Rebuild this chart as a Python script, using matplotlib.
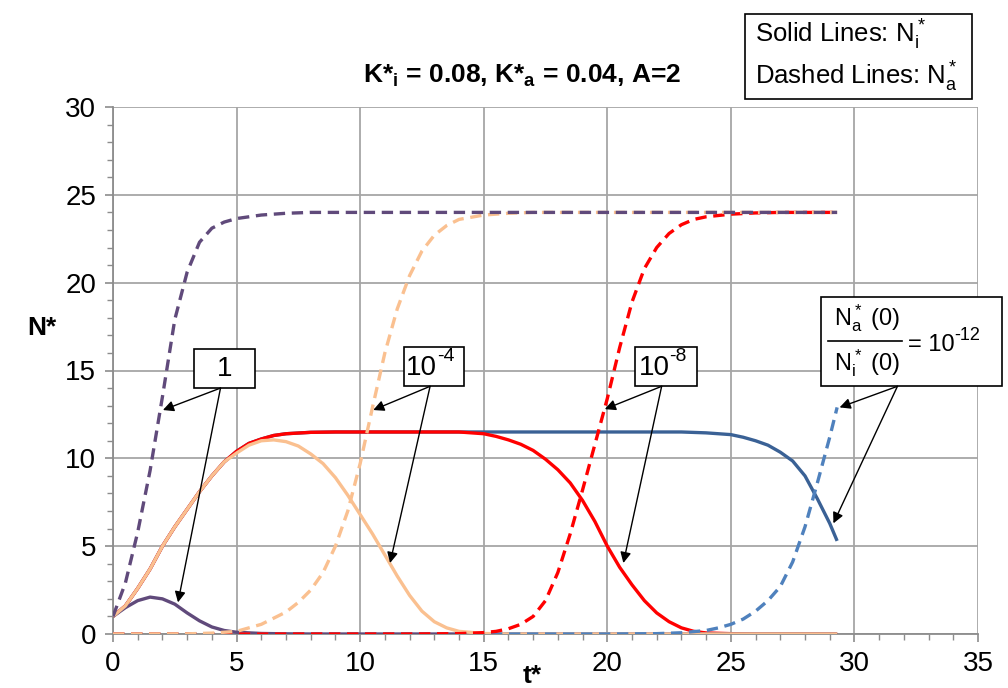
import matplotlib
matplotlib.use("Agg")
import matplotlib.pyplot as plt
from matplotlib.patches import Rectangle
from matplotlib.ticker import MultipleLocator

plt.rcParams['font.family'] = ['Liberation Sans', 'DejaVu Sans']
plt.rcParams['mathtext.fontset'] = 'custom'
plt.rcParams['mathtext.rm'] = 'Liberation Sans'
plt.rcParams['mathtext.it'] = 'Liberation Sans:italic'
plt.rcParams['mathtext.bf'] = 'Liberation Sans:bold'

# ---- values ----
# ratio Na(0)/Ni(0) = 1  (purple)
t_p_solid = [0, 0.5, 1, 1.5, 2, 2.5, 3, 3.5, 4, 4.5, 5, 6, 7, 8, 29.3]
n_p_solid = [1.0, 1.5, 1.9, 2.1, 2.0, 1.7, 1.2, 0.75, 0.4, 0.2, 0.1, 0.03, 0.01, 0.0, 0.0]
t_p_dash = [0, 0.5, 1, 1.5, 2, 2.5, 3, 3.5, 4, 4.5, 5, 6, 7, 8, 29.3]
n_p_dash = [1.0, 2.9, 5.8, 9.3, 13.5, 17.9, 20.6, 22.3, 23.1, 23.45, 23.65, 23.85, 23.95, 24.0, 24.0]

# ratio 1e-4 (light orange)
t_o_solid = [0, 0.5, 1, 1.5, 2, 2.5, 3, 3.5, 4, 4.5, 5, 5.5, 6, 6.5, 7, 7.5, 8, 8.5, 9, 9.5,
             10, 10.5, 11, 11.5, 12, 12.5, 13, 13.5, 14, 15, 16, 29.3]
n_o_solid = [1.0, 1.6, 2.6, 3.7, 5.0, 6.1, 7.1, 8.1, 9.0, 9.8, 10.3, 10.75, 11.0, 11.05, 10.95, 10.7,
             10.25, 9.7, 8.9, 7.9, 6.8, 5.7, 4.5, 3.3, 2.2, 1.3, 0.7, 0.35, 0.15, 0.03, 0.0, 0.0]
t_o_dash = [0, 3, 4, 5, 6, 7, 7.5, 8, 8.5, 9, 9.5, 10, 10.5, 11, 11.5, 12, 12.5, 13, 13.5, 14,
            15, 16, 17, 29.3]
n_o_dash = [0.0, 0.01, 0.05, 0.15, 0.55, 1.25, 1.8, 2.5, 3.5, 5.0, 7.0, 9.7, 12.9, 16.0, 18.5, 20.4,
            21.8, 22.7, 23.25, 23.6, 23.85, 23.95, 24.0, 24.0]

# ratio 1e-8 (red)
t_r_solid = [0, 0.5, 1, 1.5, 2, 2.5, 3, 3.5, 4, 4.5, 5, 5.5, 6, 6.5, 7, 8, 9, 10, 12, 14, 15,
             15.5, 16, 16.5, 17, 17.5, 18, 18.5, 19, 19.5, 20, 20.5, 21, 21.5, 22, 22.5, 23,
             23.5, 24, 25, 26, 29.3]
n_r_solid = [1.0, 1.6, 2.6, 3.7, 5.0, 6.1, 7.1, 8.1, 9.0, 9.8, 10.4, 10.85, 11.1, 11.3, 11.4,
             11.48, 11.5, 11.5, 11.5, 11.5, 11.4, 11.25, 11.05, 10.8, 10.45, 9.95, 9.35, 8.6,
             7.6, 6.4, 5.0, 3.8, 2.8, 1.9, 1.2, 0.7, 0.35, 0.15, 0.06, 0.02, 0.0, 0.0]
t_r_dash = [0, 12, 14, 15, 15.5, 16, 16.5, 17, 17.5, 18, 18.5, 19, 19.5, 20, 20.5, 21, 21.5,
            22, 22.5, 23, 23.5, 24, 25, 26, 27, 29.3]
n_r_dash = [0.0, 0.0, 0.02, 0.08, 0.15, 0.3, 0.55, 1.0, 1.9, 3.5, 5.7, 8.2, 10.8, 13.4, 16.3,
            18.9, 20.8, 22.0, 22.8, 23.3, 23.6, 23.75, 23.9, 23.97, 24.0, 24.0]

# ratio 1e-12 (blue)
t_b_solid = [0, 0.5, 1, 1.5, 2, 2.5, 3, 3.5, 4, 4.5, 5, 5.5, 6, 6.5, 7, 8, 9, 10, 12, 14, 16,
             18, 20, 22, 23, 24, 25, 25.5, 26, 26.5, 27, 27.5, 28, 28.5, 29, 29.3]
n_b_solid = [1.0, 1.6, 2.6, 3.7, 5.0, 6.1, 7.1, 8.1, 9.0, 9.8, 10.4, 10.85, 11.1, 11.3, 11.4,
             11.48, 11.5, 11.5, 11.5, 11.5, 11.5, 11.5, 11.5, 11.5, 11.5, 11.45, 11.35, 11.2,
             11.0, 10.75, 10.35, 9.85, 9.0, 7.7, 6.3, 5.3]
t_b_dash = [0, 20, 22, 23, 24, 24.5, 25, 25.5, 26, 26.5, 27, 27.5, 28, 28.5, 29, 29.3]
n_b_dash = [0.0, 0.0, 0.02, 0.07, 0.2, 0.35, 0.55, 0.85, 1.3, 1.9, 2.7, 4.1, 6.1, 8.6, 11.2, 12.9]

# colours
c_purple = '#604A7B'
c_orange = '#FAC090'
c_red = '#FF0000'
c_blue = '#3A6195'
c_blue_l = '#4F81BD'

fig = plt.figure(figsize=(10.08, 6.88), dpi=100)
ax = fig.add_axes([113 / 1008, 54 / 688, 865 / 1008, 527 / 688])

lw = 2.4
dash = (3.4, 2.0)

ax.plot(t_b_solid, n_b_solid, color=c_blue, lw=lw, solid_capstyle='butt', zorder=3)
ax.plot(t_r_solid, n_r_solid, color=c_red, lw=lw, solid_capstyle='butt', zorder=3)
ax.plot(t_p_solid, n_p_solid, color=c_purple, lw=lw, solid_capstyle='butt', zorder=3)
ax.plot(t_o_solid, n_o_solid, color=c_orange, lw=lw, solid_capstyle='butt', zorder=3)
ax.plot(t_b_dash, n_b_dash, color=c_blue_l, lw=lw, dashes=dash, dash_capstyle='butt', zorder=3)
ax.plot(t_r_dash, n_r_dash, color=c_red, lw=lw, dashes=dash, dash_capstyle='butt', zorder=3)
ax.plot(t_o_dash, n_o_dash, color=c_orange, lw=lw, dashes=dash, dash_capstyle='butt', zorder=3)
ax.plot(t_p_dash, n_p_dash, color=c_purple, lw=lw, dashes=dash, dash_capstyle='butt', zorder=3)

ax.set_xlim(0, 35)
ax.set_ylim(0, 30)
ax.xaxis.set_major_locator(MultipleLocator(5))
ax.yaxis.set_major_locator(MultipleLocator(5))
ax.xaxis.set_minor_locator(MultipleLocator(1))
ax.yaxis.set_minor_locator(MultipleLocator(1))
ax.grid(True, which='major', color='#A6A6A6', lw=1.3, zorder=1)
ax.set_axisbelow(True)
for s in ['top', 'right']:
    ax.spines[s].set_visible(False)
for s in ['left', 'bottom']:
    ax.spines[s].set_color('#8C8C8C')
    ax.spines[s].set_linewidth(1.3)
ax.tick_params(which='major', length=6, width=1.2, color='#8C8C8C', labelsize=20, pad=6)
ax.tick_params(which='minor', length=4, width=1.0, color='#8C8C8C')

# labels and title
fig.text(42 / 1008, 1 - 328 / 688, 'N*', fontsize=19, fontweight='bold', ha='center', va='center')
fig.text(532 / 1008, 1 - 676 / 688, 't*', fontsize=19, fontweight='bold', ha='center', va='center')
fig.text(522 / 1008, 1 - 76 / 688, r'K*$_\mathbf{i}$ = 0.08, K*$_\mathbf{a}$ = 0.04, A=2',
         fontsize=19, fontweight='bold', ha='center', va='center')

# legend box at top right
fig.patches.append(Rectangle((745 / 1008, 1 - 99 / 688), 227 / 1008, 85 / 688,
                             transform=fig.transFigure, fc='white', ec='black', lw=1.2))
fig.text(755 / 1008, 1 - 35 / 688, r'Solid Lines: $\mathregular{N_i^*}$', fontsize=18.5,
         ha='left', va='center')
fig.text(755 / 1008, 1 - 77 / 688, r'Dashed Lines: $\mathregular{N_a^*}$', fontsize=18.5,
         ha='left', va='center')

# labelled boxes with arrows (data coordinates)
boxes = [
    ((3.28, 14.0), 2.47, 2.22, (4.35, 14.0), [(2.02, 12.75), (2.63, 1.8)]),
    ((11.78, 14.1), 2.43, 2.22, (12.83, 14.1), [(10.53, 12.75), (11.21, 4.04)]),
    ((21.13, 14.1), 2.51, 2.22, (22.2, 14.1), [(19.9, 12.8), (20.65, 4.04)]),
    ((28.66, 14.1), 7.33, 5.07, (31.74, 14.1), [(29.4, 12.9), (29.15, 6.3)]),
]
for (x0, y0), w, h, origin, tips in boxes:
    ax.add_patch(Rectangle((x0, y0), w, h, fc='white', ec='black', lw=1.2, zorder=6, clip_on=False))
    for tip in tips:
        ax.annotate('', xy=tip, xytext=origin, annotation_clip=False, zorder=8,
                    arrowprops=dict(arrowstyle='-|>', color='black', lw=1.0,
                                    mutation_scale=16, shrinkA=0, shrinkB=0))

kw = dict(zorder=7, clip_on=False)
ax.text(4.51, 15.1, '1', fontsize=20, ha='center', va='center', **kw)
ax.text(13.12, 15.14, '10', fontsize=20, ha='right', va='center', **kw)
ax.text(13.12, 15.8, '-4', fontsize=14, ha='left', va='center', **kw)
ax.text(22.52, 15.14, '10', fontsize=20, ha='right', va='center', **kw)
ax.text(22.52, 15.8, '-8', fontsize=14, ha='left', va='center', **kw)

# fraction box text
ax.text(30.49, 17.99, r'$\mathregular{N_a^*}$ (0)', fontsize=17, ha='center', va='center', **kw)
ax.text(30.49, 15.42, r'$\mathregular{N_i^*}$ (0)', fontsize=17, ha='center', va='center', **kw)
ax.plot([28.95, 31.94], [16.68, 16.68], color='black', lw=1.2, zorder=7, clip_on=False)
ax.text(32.15, 16.45, '= 10', fontsize=17, ha='left', va='center', **kw)
ax.text(34.05, 17.0, '-12', fontsize=13, ha='left', va='center', **kw)

fig.savefig('out.png', dpi=100)
